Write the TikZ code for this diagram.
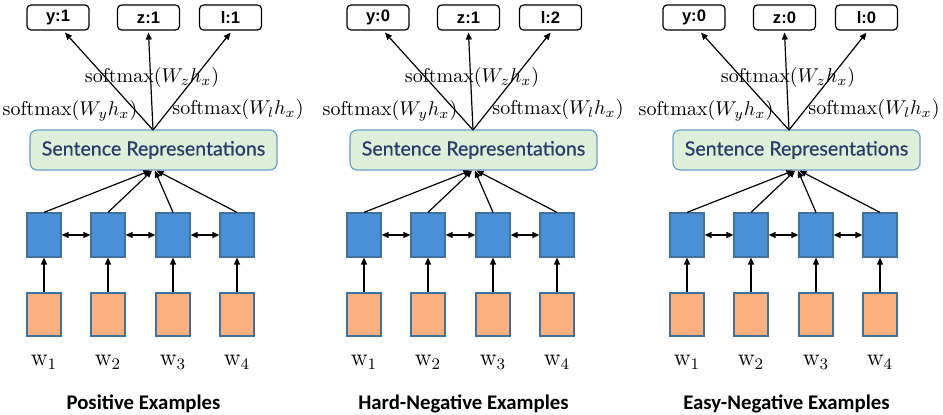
\documentclass[tikz,border=0pt]{standalone}
\usepackage{fontspec}
\newfontfamily\capfont{Carlito}
\newfontfamily\srfont[FakeBold=0.6]{Lato}
\newfontfamily\lblfont{Liberation Sans}
\usetikzlibrary{arrows.meta}
\definecolor{hidblue}{HTML}{4A90D6}
\definecolor{embor}{HTML}{FCB07F}
\definecolor{boxborder}{HTML}{41719C}
\definecolor{srfill}{HTML}{DEF0DA}
\definecolor{srborder}{HTML}{6A9FC9}
\definecolor{srtext}{HTML}{2B3C6B}
\tikzset{
  lbl/.style={draw, rounded corners=2pt, line width=0.6pt, minimum width=31pt, minimum height=12.5pt, inner sep=0pt, font=\lblfont\bfseries\fontsize{8.3}{10}\selectfont},
  srbox/.style={draw=srborder, fill=srfill, rounded corners=3.5pt, line width=0.6pt, minimum width=123.5pt, minimum height=20pt, inner sep=0pt, text=srtext, font=\srfont\fontsize{9.8}{11}\selectfont},
  hid/.style={draw=boxborder, fill=hidblue, line width=0.6pt, minimum width=17pt, minimum height=22pt, inner sep=0pt},
  emb/.style={draw=boxborder, fill=embor, line width=0.6pt, minimum width=17pt, minimum height=21.5pt, inner sep=0pt},
  mth/.style={inner sep=0pt, font=\fontsize{10}{12}\selectfont},
  wl/.style={inner sep=0pt, font=\fontsize{12}{14}\selectfont},
  captext/.style={inner sep=0pt, font=\capfont\bfseries\fontsize{10.4}{12}\selectfont},
  arr/.style={-{Triangle[length=3.5pt,width=3pt]}, line width=0.6pt},
  darr/.style={{Triangle[length=3.5pt,width=3pt]}-{Triangle[length=3.5pt,width=3pt]}, line width=0.6pt}
}
\newcommand{\mypanel}[7]{%
  \node[lbl] (#1y) at (#2+58,17.5) {y:#4};
  \node[lbl] (#1z) at (#2+148.5,17.5) {z:#5};
  \node[lbl] (#1l) at (#2+230.5,17.5) {l:#6};
  \node[srbox] (#1sr) at (#3+153.5,150) {Sentence Representations};
  \coordinate (#1o) at (#2+153,130);
  \draw[arr] (#1o) -- ([xshift=3.5pt,yshift=-1pt]#1y.south);
  \draw[arr] (#1o) -- ([yshift=-1pt]#1z.south);
  \draw[arr] (#1o) -- ([yshift=-1pt]#1l.south);
  \node[mth] (#1mz) at (#2+152,77.5) {$\mathrm{softmax}(W_z h_x)$};
  \node[mth] (#1my) at (#2+70,110.5) {$\mathrm{softmax}(W_y h_x)$};
  \node[mth] (#1ml) at (#2+238,109.5) {$\mathrm{softmax}(W_l h_x)$};
  \foreach \i/\x in {1/44,2/108,3/173,4/237}{%
    \node[hid] (#1h\i) at (#3+\x,235) {};
    \node[emb] (#1e\i) at (#3+\x,314.5) {};
    \node[wl, anchor=base] (#1w\i) at (#3+\x,366) {$\mathrm{w}_\i$};
    \draw[arr] (#1e\i) -- (#1h\i);
  }
  \draw[darr] (#1h1) -- (#1h2);
  \draw[darr] (#1h2) -- (#1h3);
  \draw[darr] (#1h3) -- (#1h4);
  \draw[arr] (#1h1.north) -- ([xshift=-1.5pt]#1sr.south);
  \draw[arr] (#1h2.north) -- ([xshift=-0.7pt]#1sr.south);
  \draw[arr] (#1h3.north) -- ([xshift=0.7pt]#1sr.south);
  \draw[arr] (#1h4.north) -- ([xshift=1.5pt]#1sr.south);
  \node[captext, anchor=base] (#1cap) at (#3+143.5,410) {#7};
}
\begin{document}
\begin{tikzpicture}[x=0.5pt,y=-0.5pt]
\useasboundingbox (0,0) rectangle (943,415);
\mypanel{a}{0}{0}{1}{1}{1}{Positive Examples}
\mypanel{b}{320}{320}{0}{1}{2}{Hard-Negative Examples}
\mypanel{c}{636}{643}{0}{0}{0}{Easy-Negative Examples}
\end{tikzpicture}
\end{document}
